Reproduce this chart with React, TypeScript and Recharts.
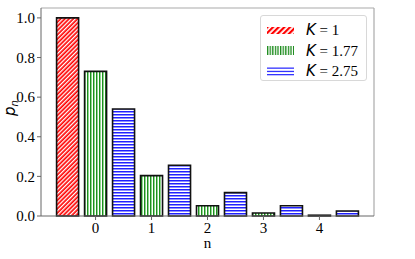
import React from 'react';
import { BarChart, Bar, XAxis, YAxis, ReferenceLine, Legend } from 'recharts';

// n values and p_n
const nValues = [0, 1, 2, 3, 4];
const pK1 = [1, 0, 0, 0, 0]; // drawn at n - 0.5
const pK177 = [0.73, 0.204, 0.052, 0.015, 0.004]; // drawn at n
const pK275 = [0.54, 0.256, 0.118, 0.052, 0.025]; // drawn at n + 0.5
const yTicks = [0, 0.2, 0.4, 0.6, 0.8, 1.0];
const seriesLabels = ['1', '1.77', '2.75'];

const rows: Record<string, any> = {};
const put = (x: number, key: string, v: number) => {
  const k = x.toFixed(2);
  if (!rows[k]) rows[k] = { x, k1: 0, k177: 0, k275: 0 };
  rows[k][key] = v;
};
nValues.forEach((n, i) => {
  put(n - 0.5, 'k1', pK1[i]);
  put(n, 'k177', pK177[i]);
  put(n + 0.5, 'k275', pK275[i]);
});
const data = Object.values(rows).sort((a: any, b: any) => a.x - b.x);

const serif = 'Liberation Serif';
const mathFont = 'DejaVu Sans';

const Patterns = () => (
  <defs>
    <pattern id="hatchRed" patternUnits="userSpaceOnUse" width="3" height="3" patternTransform="rotate(45)">
      <rect width="3" height="3" fill="#ff0000" />
      <rect width="1.3" height="3" fill="#ffffff" />
    </pattern>
    <pattern id="hatchGreen" patternUnits="userSpaceOnUse" width="3" height="3">
      <rect width="3" height="3" fill="#ffffff" />
      <rect x="0" width="1" height="3" fill="#1f8f1f" />
      <rect x="1" width="1" height="3" fill="#8fd88f" />
    </pattern>
    <pattern id="hatchBlue" patternUnits="userSpaceOnUse" width="3" height="3">
      <rect width="3" height="3" fill="#ffffff" />
      <rect width="3" height="1.5" fill="#2020ff" />
    </pattern>
  </defs>
);

const LegendPatch = ({ idx }: { idx: number }) => {
  if (idx === 0) {
    return (
      <svg width="27" height="9">
        <defs>
          <pattern id="lgRed" patternUnits="userSpaceOnUse" width="4" height="4" patternTransform="rotate(45)">
            <rect width="4" height="4" fill="#ffffff" />
            <rect width="2.2" height="4" fill="#ff0000" />
          </pattern>
        </defs>
        <rect x="0" y="1" width="27" height="7" fill="url(#lgRed)" />
      </svg>
    );
  }
  if (idx === 1) {
    return (
      <svg width="27" height="9">
        <defs>
          <pattern id="lgGreen" patternUnits="userSpaceOnUse" width="2.6" height="9">
            <rect width="2.6" height="9" fill="#ffffff" />
            <rect width="1.3" height="9" fill="#1a8a1a" />
          </pattern>
        </defs>
        <rect x="0" y="0" width="27" height="9" fill="url(#lgGreen)" />
      </svg>
    );
  }
  return (
    <svg width="27" height="9">
      <rect x="0" y="0.5" width="27" height="1.3" fill="#3333ff" />
      <rect x="0" y="3.8" width="27" height="1.3" fill="#3333ff" />
      <rect x="0" y="7" width="27" height="1.3" fill="#3333ff" />
    </svg>
  );
};

const renderLegend = () => (
  <div
    style={{
      border: '1px solid #d8d8d8',
      borderRadius: 3,
      background: 'rgba(255,255,255,0.85)',
      width: 107,
      height: 66,
      boxSizing: 'border-box',
      padding: '4px 0 0 6px',
    }}
  >
    {seriesLabels.map((lab, i) => (
      <div key={lab} style={{ display: 'flex', alignItems: 'center', height: 20.5 }}>
        <LegendPatch idx={i} />
        <span style={{ marginLeft: 12, fontSize: 15, whiteSpace: 'nowrap', lineHeight: '20px' }}>
          <span style={{ fontFamily: mathFont, fontStyle: 'italic' }}>K</span>
          <span style={{ fontFamily: serif }}> = {lab}</span>
        </span>
      </div>
    ))}
  </div>
);

const YLabel = () => (
  <text
    x={15}
    y={108}
    transform="rotate(-90, 15, 108)"
    textAnchor="middle"
    style={{ fontFamily: mathFont, fontStyle: 'italic', fontSize: 15 }}
    fill="#000"
  >
    p<tspan dy={3} style={{ fontSize: 10 }}>n</tspan>
  </text>
);

export default function App() {
  return (
    <div
      style={{
        position: 'absolute',
        left: 0,
        top: 0,
        width: 415,
        height: 259,
        background: '#fff',
        fontFamily: serif,
      }}
    >
      <BarChart
        width={415}
        height={259}
        data={data}
        margin={{ top: 8, right: 41, left: 0, bottom: 0 }}
        barCategoryGap={0}
        style={{ fontFamily: serif }}
      >
        <Patterns />
        <XAxis
          dataKey="x"
          type="number"
          domain={[-0.975, 4.975]}
          ticks={nValues}
          height={43}
          stroke="#666"
          tickSize={4}
          tick={{ fill: '#000', fontSize: 15, style: { fontFamily: serif } }}
          label={{ value: 'n', position: 'insideBottom', offset: 11, fill: '#000', fontSize: 15, style: { fontFamily: serif } }}
        />
        <YAxis
          type="number"
          domain={[0, 1.05]}
          ticks={yTicks}
          width={41}
          stroke="#666"
          tickSize={4}
          tickFormatter={(v: number) => v.toFixed(1)}
          tick={{ fill: '#000', fontSize: 15, style: { fontFamily: serif } }}
          label={{ content: () => <YLabel /> }}
        />
        <ReferenceLine y={1.05} stroke="#aaa" strokeWidth={1.2} />
        <ReferenceLine x={4.975} stroke="#aaa" strokeWidth={1.2} />
        <Bar dataKey="k1" stackId="a" barSize={22} fill="url(#hatchRed)" stroke="#111" strokeWidth={1.6} isAnimationActive={false} />
        <Bar dataKey="k177" stackId="a" barSize={22} fill="url(#hatchGreen)" stroke="#111" strokeWidth={1.6} isAnimationActive={false} />
        <Bar dataKey="k275" stackId="a" barSize={22} fill="url(#hatchBlue)" stroke="#111" strokeWidth={1.6} isAnimationActive={false} />
        <Legend
          content={renderLegend}
          layout="horizontal"
          verticalAlign="middle"
          align="center"
          wrapperStyle={{ position: 'absolute', left: 260, top: 15, width: 107, height: 66 }}
        />
      </BarChart>
    </div>
  );
}
